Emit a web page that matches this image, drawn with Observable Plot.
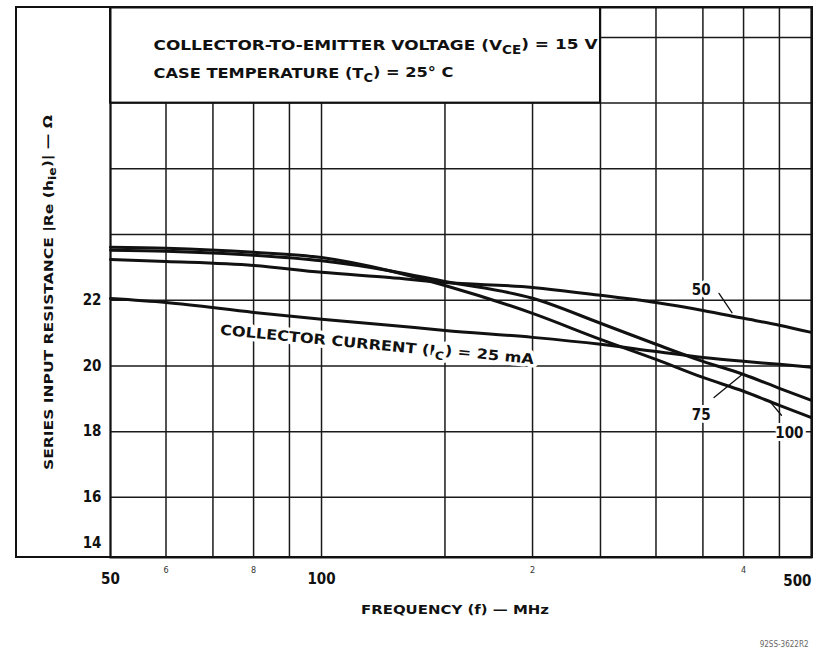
<!DOCTYPE html>
<html><head><meta charset="utf-8">
<script src="https://cdn.jsdelivr.net/npm/d3@7"></script>
<script src="https://cdn.jsdelivr.net/npm/@observablehq/plot@0.6"></script>
<style>
body{margin:0;background:#fff;}
#wrap{position:relative;width:823px;height:656px;}
#border{position:absolute;left:15px;top:6px;width:798px;height:552px;border:2px solid #111;box-sizing:border-box;pointer-events:none;}
</style></head><body><div id="wrap"></div>
<script>
// ---- data (frequency in MHz, series input resistance in ohms) ----
const freq = [50, 60, 80, 100, 125, 150, 200, 250, 300, 350, 400, 450, 500];
const ic25  = [22.05, 21.93, 21.63, 21.42, 21.24, 21.08, 20.87, 20.66, 20.44, 20.26, 20.14, 20.05, 19.96];
const ic50  = [23.24, 23.18, 23.06, 22.85, 22.69, 22.54, 22.39, 22.15, 21.93, 21.69, 21.45, 21.24, 21.02];
const ic75  = [23.52, 23.49, 23.37, 23.20, 22.90, 22.57, 22.06, 21.30, 20.66, 20.14, 19.74, 19.32, 18.95];
const ic100 = [23.61, 23.58, 23.46, 23.30, 22.90, 22.45, 21.60, 20.81, 20.20, 19.65, 19.23, 18.80, 18.43];
const seriesNames = ["25", "50", "75", "100"];
const seriesValues = [ic25, ic50, ic75, ic100];

const xGrid = [50, 60, 70, 80, 90, 100, 150, 200, 250, 300, 350, 400, 450, 500];
const yGrid = [16, 18, 20, 22, 24, 26, 28, 30];
const yTickLabels = [16, 18, 20, 22];
const yTickLow = [14];
const xMajor = [50, 100];
const xMajorEnd = [500];
const xMinor = [60, 80, 200, 400];
const xMinorLabels = ["6", "8", "2", "4"];

const header1 = "COLLECTOR-TO-EMITTER VOLTAGE (V_{CE}) = 15 V";
const header2 = "CASE TEMPERATURE (T_{C}) = 25° C";
const yTitle = "SERIES INPUT RESISTANCE |Re (h_{ie})| — Ω";
const xTitle = "FREQUENCY (f) — MHz";
const caption = "92SS-3622R2";
const currentLabel = "COLLECTOR CURRENT (I_{C}) = 25 mA";

// box for the conditions text (in data units)
const conditionBox = [{x1: 50, x2: 250, y1: 28, y2: 30.91}];
// curve labels and leader arrows (in data units)
const curveLabels = [
  {f: 348, r: 22.3, text: "50"},
  {f: 348, r: 18.5, text: "75"},
  {f: 465, r: 17.95, text: "100"}
];
const currentLabelPos = [{f: 120, r: 20.63, text: currentLabel}];
const leaders = [
  {x1: 369, y1: 22.21, x2: 385, y2: 21.62, bend: 25},
  {x1: 363, y1: 19.04, x2: 397, y2: 19.72, bend: 0},
  {x1: 453, y1: 18.5, x2: 438, y2: 18.87, bend: 0}
];

const data = seriesNames.flatMap((name, s) => freq.map((f, i) => ({f, r: seriesValues[s][i], ic: name})));

const tickFont = "'Liberation Sans Narrow', 'DejaVu Sans Condensed', sans-serif";
const ink = "#111";

const chart = Plot.plot({
  width: 823, height: 656,
  marginLeft: 110, marginRight: 12, marginTop: 7, marginBottom: 99,
  x: {type: "log", domain: [50, 500], axis: null},
  y: {domain: [14.17, 30.91], axis: null},
  style: {fontFamily: "'DejaVu Sans', sans-serif", background: "transparent", overflow: "visible", color: ink},
  marks: [
    Plot.ruleX(xGrid, {x: d => d, stroke: "#1a1a1a", strokeWidth: 1.5}),
    Plot.ruleY(yGrid, {y: d => d, stroke: "#1a1a1a", strokeWidth: 1.5}),
    Plot.rect(conditionBox, {x1: "x1", x2: "x2", y1: "y1", y2: "y2", fill: "white", stroke: ink, strokeWidth: 2}),
    Plot.text([header1], {text: d => d, frameAnchor: "top-left", dx: 43, dy: 32, textAnchor: "start", fontSize: 14.5, fontWeight: "bold", fill: ink}),
    Plot.text([header2], {text: d => d, frameAnchor: "top-left", dx: 43, dy: 60, textAnchor: "start", fontSize: 14.5, fontWeight: "bold", fill: ink}),
    Plot.line(data, {x: "f", y: "r", z: "ic", stroke: ink, strokeWidth: 3, curve: "monotone-x"}),
    Plot.text(currentLabelPos, {x: "f", y: "r", text: "text", rotate: 5.5, fontSize: 14, fontWeight: "bold", fill: ink, stroke: "white", strokeWidth: 7}),
    Plot.text(curveLabels, {x: "f", y: "r", text: "text", fontSize: 15, fontWeight: "bold", fontFamily: tickFont, fill: ink, stroke: "white", strokeWidth: 6}),
    Plot.arrow(leaders, {x1: "x1", y1: "y1", x2: "x2", y2: "y2", bend: "bend", stroke: ink, strokeWidth: 1.3, headLength: 6}),
    Plot.frame({stroke: ink, strokeWidth: 2}),
    Plot.text(yTickLabels, {y: d => d, text: d => String(d), frameAnchor: "left", dx: -9, textAnchor: "end", fontSize: 15, fontWeight: "bold", fontFamily: tickFont, fill: ink}),
    Plot.text(yTickLow, {y: d => d, text: d => String(d), frameAnchor: "left", dx: -9, dy: -20, textAnchor: "end", fontSize: 15, fontWeight: "bold", fontFamily: tickFont, fill: ink}),
    Plot.text(xMajor, {x: d => d, text: d => String(d), frameAnchor: "bottom", dy: 26, fontSize: 15, fontWeight: "bold", fontFamily: tickFont, fill: ink}),
    Plot.text(xMajorEnd, {x: d => d, text: d => String(d), frameAnchor: "bottom", dy: 28, textAnchor: "end", fontSize: 15, fontWeight: "bold", fontFamily: tickFont, fill: ink}),
    Plot.text(xMinor, {x: d => d, text: (d, i) => xMinorLabels[i], frameAnchor: "bottom", dy: 15, fontSize: 9, fontFamily: tickFont, fill: "#333"}),
    Plot.text([yTitle], {text: d => d, frameAnchor: "left", dx: -62, dy: 10, rotate: -90, textAnchor: "middle", fontSize: 13, fontWeight: "bold", fill: ink}),
    Plot.text([xTitle], {text: d => d, frameAnchor: "bottom", dx: -6, dy: 56, textAnchor: "middle", fontSize: 13, fontWeight: "bold", fill: ink}),
    Plot.text([caption], {text: d => d, frameAnchor: "bottom-right", dx: -3, dy: 89, textAnchor: "end", fontSize: 8, fontFamily: tickFont, fill: "#666"})
  ]
});

// post-process: subscripts, widths and halos
const lengths = new Map([[header1, 444], [header2, 300], [yTitle, 355], [xTitle, 188], [currentLabel, 315]]);
const SVGNS = "http://www.w3.org/2000/svg";
chart.querySelectorAll("text").forEach(t => {
  const s = t.textContent;
  if (lengths.has(s)) {
    t.setAttribute("textLength", lengths.get(s));
    t.setAttribute("lengthAdjust", "spacingAndGlyphs");
  }
  if (s.includes("_{")) {
    while (t.firstChild) t.removeChild(t.firstChild);
    const parts = s.split(/_\{([^}]*)\}/);
    parts.forEach((p, i) => {
      if (!p) return;
      const ts = document.createElementNS(SVGNS, "tspan");
      ts.textContent = p;
      if (i % 2 === 1) { ts.setAttribute("dy", "0.35em"); ts.setAttribute("font-size", "80%"); }
      else if (i > 0) ts.setAttribute("dy", "-0.35em");
      t.appendChild(ts);
    });
  }
});
chart.querySelectorAll("g[aria-label='text']").forEach(g => {
  if (g.getAttribute("stroke")) { g.style.paintOrder = "stroke"; g.setAttribute("stroke-linejoin", "round"); }
});

const wrap = document.getElementById("wrap");
wrap.appendChild(chart);
const border = document.createElement("div");
border.id = "border";
wrap.appendChild(border);
</script>
</body></html>
